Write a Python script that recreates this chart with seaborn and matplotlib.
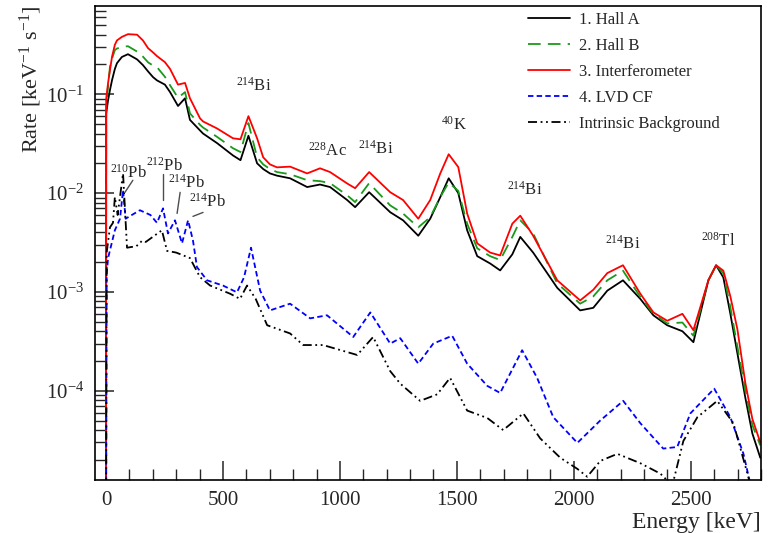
import numpy as np
import pandas as pd
import matplotlib
matplotlib.use('Agg')
import matplotlib.pyplot as plt
import seaborn as sns
from matplotlib.ticker import MultipleLocator, LogLocator, LogFormatterMathtext, NullFormatter

energy_hall = [0, 1, 9, 17, 26, 38, 47, 68, 94, 133, 158, 180, 201, 218, 252, 274, 308, 338,
               359, 402, 415, 475, 543, 575, 609, 646, 672, 701, 731, 787, 860, 915, 958, 1031,
               1065, 1125, 1215, 1270, 1335, 1386, 1429, 1465, 1506, 1544, 1587, 1642, 1685,
               1737, 1771, 1826, 1929, 2027, 2083, 2143, 2210, 2284, 2340, 2399, 2464, 2511,
               2575, 2608, 2639, 2669, 2699, 2733, 2763, 2797]

hall_a = [1e-6, 0.064, 0.087, 0.11, 0.139, 0.18, 0.206, 0.238, 0.254, 0.225, 0.197, 0.17,
          0.149, 0.138, 0.125, 0.105, 0.076, 0.091, 0.055, 0.043, 0.040, 0.032, 0.024, 0.0215,
          0.038, 0.020, 0.0175, 0.0158, 0.0150, 0.0141, 0.0115, 0.0122, 0.0115, 0.0085, 0.0072,
          0.0102, 0.0064, 0.0053, 0.0037, 0.0055, 0.0091, 0.0141, 0.0100, 0.0042, 0.0023,
          0.00194, 0.00165, 0.0024, 0.0036, 0.0025, 0.0011, 0.00065, 0.00069, 0.00103, 0.00131,
          0.00085, 0.00058, 0.00046, 0.00040, 0.00031, 0.00131, 0.00186, 0.0014, 0.00060,
          0.00024, 8.5e-5, 3.7e-5, 2.1e-5]

hall_b = [1e-6, 0.075, 0.12, 0.188, 0.23, 0.279, 0.29, 0.30, 0.306, 0.27, 0.24, 0.21, 0.195,
          0.188, 0.15, 0.123, 0.092, 0.105, 0.064, 0.049, 0.046, 0.037, 0.0284, 0.026, 0.051,
          0.023, 0.0195, 0.0175, 0.0163, 0.0155, 0.0135, 0.0132, 0.0126, 0.0095, 0.0081, 0.0126,
          0.0075, 0.0062, 0.0045, 0.0057, 0.0091, 0.0128, 0.0105, 0.0049, 0.00276, 0.0023,
          0.0021, 0.0036, 0.0053, 0.0039, 0.00122, 0.00076, 0.0009, 0.00131, 0.00164, 0.00089,
          0.0006, 0.00048, 0.00049, 0.00036, 0.00131, 0.00186, 0.00154, 0.0007, 0.00028,
          0.0001, 4.5e-5, 2.8e-5]

interferometer = [1e-6, 0.09, 0.13, 0.175, 0.24, 0.316, 0.35, 0.38, 0.405, 0.40, 0.35, 0.292,
                  0.265, 0.243, 0.211, 0.18, 0.125, 0.13, 0.091, 0.057, 0.053, 0.045, 0.0358,
                  0.035, 0.060, 0.0358, 0.023, 0.0195, 0.0182, 0.0185, 0.0158, 0.0178, 0.0163,
                  0.0125, 0.0112, 0.0163, 0.0102, 0.0085, 0.0055, 0.0085, 0.0158, 0.0247, 0.0183,
                  0.0062, 0.0031, 0.0025, 0.00234, 0.0049, 0.0059, 0.0037, 0.00131, 0.00082,
                  0.00105, 0.00155, 0.00186, 0.00096, 0.00062, 0.00051, 0.00060, 0.00041, 0.00131,
                  0.00186, 0.00164, 0.0009, 0.00042, 0.00012, 5.2e-5, 3.0e-5]

energy_lvd = [0, 3, 9, 38, 60, 73, 84, 100, 145, 190, 218, 244, 265, 295, 325, 351, 372, 389,
              432, 500, 560, 590, 620, 659, 701, 787, 873, 945, 1057, 1130, 1215, 1258, 1335,
              1399, 1480, 1544, 1630, 1685, 1779, 1843, 1912, 2015, 2113, 2211, 2284, 2382,
              2442, 2498, 2600, 2669, 2725, 2760]
lvd_cf = [1e-6, 0.0015, 0.0022, 0.0042, 0.0055, 0.0107, 0.0055, 0.0058, 0.0067, 0.006, 0.0050,
          0.0070, 0.0039, 0.0053, 0.0031, 0.0053, 0.0033, 0.00178, 0.00131, 0.00116, 0.00099,
          0.0014, 0.0028, 0.00103, 0.00065, 0.00076, 0.00054, 0.00058, 0.00035, 0.00062,
          0.00030, 0.00034, 0.000188, 0.00030, 0.00036, 0.000188, 0.000112, 9.5e-5, 0.000257,
          0.000135, 5.4e-5, 2.97e-5, 5.0e-5, 7.9e-5, 4.7e-5, 2.6e-5, 2.7e-5, 5.9e-5, 1.05e-4,
          5.4e-5, 2.3e-5, 1.0e-5]

energy_bkg = [0, 3, 17, 30, 38, 50, 73, 90, 130, 155, 170, 239, 261, 300, 359, 402, 445, 530,
              573, 603, 640, 689, 787, 843, 928, 1074, 1142, 1215, 1258, 1343, 1416, 1471, 1544,
              1630, 1698, 1784, 1856, 1942, 2015, 2057, 2113, 2186, 2284, 2370, 2421, 2468, 2528,
              2613, 2682, 2742, 2770]
intrinsic = [1e-6, 0.0025, 0.0045, 0.005, 0.0091, 0.006, 0.0158, 0.0028, 0.0029, 0.0033,
             0.0032, 0.0042, 0.0026, 0.0025, 0.0022, 0.00141, 0.00116, 0.00096, 0.00085, 0.00116,
             0.00085, 0.00046, 0.00038, 0.00029, 0.00029, 0.00023, 0.00035, 0.000158, 0.000118,
             7.9e-5, 9.2e-5, 0.000135, 6.3e-5, 5.3e-5, 4.0e-5, 5.9e-5, 3.3e-5, 2.1e-5, 1.62e-5,
             1.35e-5, 1.95e-5, 2.3e-5, 1.85e-5, 1.45e-5, 1.1e-5, 3.1e-5, 5.4e-5, 7.9e-5, 4.7e-5,
             1.45e-5, 8e-6]

# isotope labels: (text, energy, rate)
peak_labels = ['$^{214}$Bi', '$^{228}$Ac', '$^{214}$Bi', '$^{40}$K', '$^{214}$Bi', '$^{214}$Bi',
               '$^{208}$Tl', '$^{210}$Pb', '$^{212}$Pb', '$^{214}$Pb', '$^{214}$Pb']
label_energy = [633, 945, 1155, 1488, 1788, 2211, 2618, 98, 252, 346, 436]
label_rate = [0.123, 0.0271, 0.0283, 0.0486, 0.0107, 0.0031, 0.0033, 0.0162, 0.019, 0.0126, 0.0081]
# pointer lines for the lead labels
pointer_energy = [(115, 81), (244, 244), (317, 304), (415, 372)]
pointer_rate = [(0.01346, 0.01016), (0.0155, 0.00844), (0.01016, 0.00622), (0.00637, 0.00581)]

sns.set_theme(style='ticks')
plt.rcParams['font.family'] = ['Liberation Serif', 'DejaVu Serif']
plt.rcParams['mathtext.fontset'] = 'custom'
plt.rcParams['mathtext.rm'] = 'Liberation Serif'
plt.rcParams['mathtext.it'] = 'Liberation Serif:italic'

fig = plt.figure(figsize=(7.69, 5.33), dpi=100)
ax = fig.add_axes([0.1235, 0.0994, 0.8661, 0.8893])

series = [
    (energy_hall, hall_a, '1. Hall A', 'black', '-'),
    (energy_hall, hall_b, '2. Hall B', '#1a9a1a', (0, (7, 4))),
    (energy_hall, interferometer, '3. Interferometer', 'red', '-'),
    (energy_lvd, lvd_cf, '4. LVD CF', 'blue', (0, (3, 1.8))),
    (energy_bkg, intrinsic, 'Intrinsic Background', 'black', (0, (5, 2, 1, 2, 1, 2))),
]
for e, r, name, col, ls in series:
    df = pd.DataFrame({'energy': e, 'rate': r})
    sns.lineplot(data=df, x='energy', y='rate', ax=ax, color=col, linestyle=ls,
                 linewidth=1.3, label=name, errorbar=None)

for txt, e, r in zip(peak_labels, label_energy, label_rate):
    ax.text(e, r, txt, ha='center', va='center', fontsize=12)
for pe, pr in zip(pointer_energy, pointer_rate):
    ax.plot(pe, pr, color='0.3', linewidth=1.0)

ax.set_yscale('log')
ax.set_xlim(-47, 2800)
ax.set_ylim(1.25e-5, 0.78)
ax.xaxis.set_major_locator(MultipleLocator(500))
ax.xaxis.set_minor_locator(MultipleLocator(100))
ax.yaxis.set_major_locator(LogLocator(base=10))
ax.yaxis.set_minor_locator(LogLocator(base=10, subs=np.arange(2, 10)))
ax.yaxis.set_major_formatter(LogFormatterMathtext())
ax.yaxis.set_minor_formatter(NullFormatter())
ax.tick_params(which='major', direction='in', length=14, width=1.1, labelsize=15, pad=8)
ax.tick_params(which='minor', direction='in', length=8, width=1.0)
for s in ax.spines.values():
    s.set_linewidth(1.2)
    s.set_color('black')

ax.set_xlabel('Energy [keV]', fontsize=17, loc='right')
ax.xaxis.set_label_coords(1.0, -0.068)
ax.set_ylabel('Rate [keV$^{-1}$ s$^{-1}$]', fontsize=16, loc='top')
ax.yaxis.set_label_coords(-0.076, 1.0)

ax.legend(loc='upper left', bbox_to_anchor=(0.645, 0.995), frameon=False, fontsize=12,
          handlelength=2.5, handletextpad=0.55, labelspacing=0.6, borderpad=0.2,
          borderaxespad=0)

fig.savefig('out.png', dpi=100)
